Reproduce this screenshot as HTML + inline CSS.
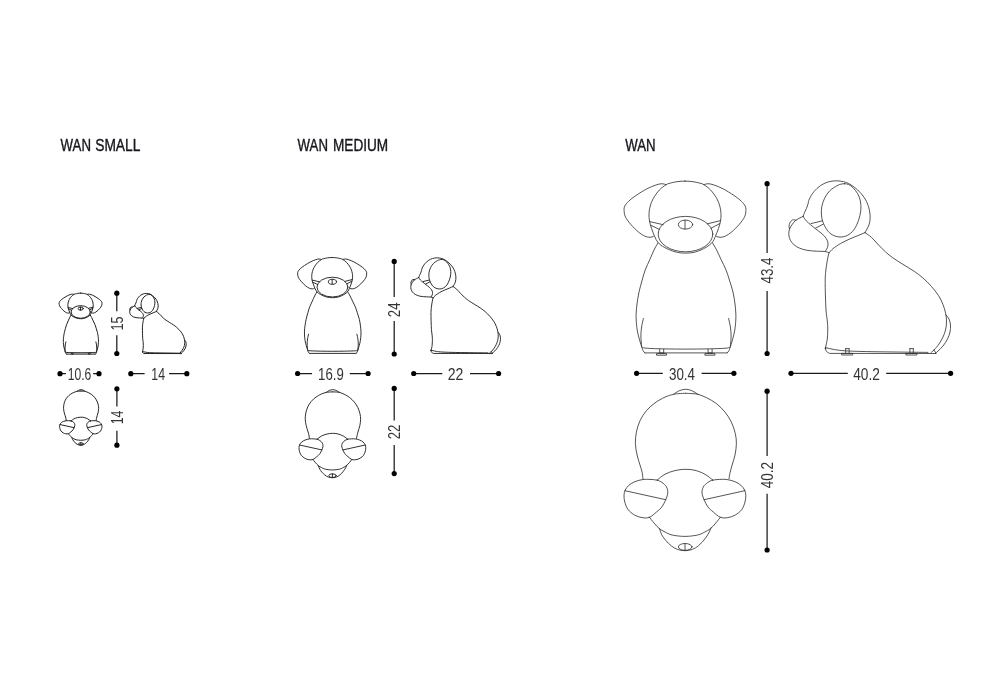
<!DOCTYPE html>
<html><head><meta charset="utf-8"><title>WAN dimensions</title>
<style>
html,body{margin:0;padding:0;background:#fff}
body{width:1000px;height:700px;overflow:hidden}
svg{display:block;will-change:transform}
.dog path,.dog ellipse{fill:none;stroke:#2e2e2e;stroke-width:.82;vector-effect:non-scaling-stroke;stroke-linecap:round;stroke-linejoin:round}
.md path,.md ellipse{stroke:#262626;stroke-width:.95}
.sm path,.sm ellipse{stroke:#222;stroke-width:1}
.dim circle{fill:#000}
.dl{stroke:#1c1c1c;stroke-width:1.25;fill:none}
.dt{font-family:"Liberation Sans",sans-serif;font-size:16.5px;fill:#333}
.lb{font-family:"Liberation Sans",sans-serif;font-size:16px;fill:#16161c;stroke:#16161c;stroke-width:.35}
</style></head><body>
<svg width="1000" height="700" viewBox="0 0 1000 700">
<rect width="1000" height="700" fill="#fff"/>
<g class="dog">
<g class="lg"><path d="M685.00 181.10 C682.33 181.10 679.50 181.35 677.00 181.70 C674.50 182.05 671.82 182.70 670.00 183.20 C668.18 183.70 667.87 183.57 666.10 184.70 C664.33 185.83 661.53 187.72 659.40 190.00 C657.27 192.28 654.83 195.72 653.30 198.40 C651.77 201.08 650.92 203.57 650.20 206.10 C649.48 208.63 649.12 211.10 649.00 213.60 C648.88 216.10 649.07 218.60 649.50 221.10 C649.93 223.60 650.77 226.10 651.60 228.60 C652.43 231.10 653.43 233.78 654.50 236.10 C655.57 238.42 656.37 240.63 658.00 242.50 C659.63 244.37 661.47 245.75 664.30 247.30 C667.13 248.85 671.52 250.83 675.00 251.80 C678.48 252.77 681.75 253.08 685.20 253.10 C688.65 253.12 692.25 252.85 695.70 251.90 C699.15 250.95 703.12 249.02 705.90 247.40 C708.68 245.78 710.80 244.08 712.40 242.20 C714.00 240.32 714.50 238.37 715.50 236.10 C716.50 233.83 717.57 231.10 718.40 228.60 C719.23 226.10 720.07 223.60 720.50 221.10 C720.93 218.60 721.12 216.10 721.00 213.60 C720.88 211.10 720.52 208.63 719.80 206.10 C719.08 203.57 718.23 201.08 716.70 198.40 C715.17 195.72 712.73 192.28 710.60 190.00 C708.47 187.72 705.67 185.83 703.90 184.70 C702.13 183.57 701.82 183.70 700.00 183.20 C698.18 182.70 695.50 182.05 693.00 181.70 C690.50 181.35 687.67 181.10 685.00 181.10Z"/><path d="M666.10 184.70 C665.38 184.53 663.58 183.62 661.80 183.70 C660.02 183.78 657.90 184.33 655.40 185.20 C652.90 186.07 650.02 187.20 646.80 188.90 C643.58 190.60 639.13 193.33 636.10 195.40 C633.07 197.47 630.48 199.52 628.60 201.30 C626.72 203.08 625.55 204.58 624.80 206.10 C624.05 207.62 624.00 208.62 624.10 210.40 C624.20 212.18 624.30 214.48 625.40 216.80 C626.50 219.12 628.57 221.80 630.70 224.30 C632.83 226.80 635.87 229.83 638.20 231.80 C640.53 233.77 642.73 235.18 644.70 236.10 C646.67 237.02 648.55 237.25 650.00 237.30 C651.45 237.35 652.83 236.55 653.40 236.40"/><path d="M703.90 184.70 C704.62 184.53 706.42 183.62 708.20 183.70 C709.98 183.78 712.10 184.33 714.60 185.20 C717.10 186.07 719.98 187.20 723.20 188.90 C726.42 190.60 730.87 193.33 733.90 195.40 C736.93 197.47 739.52 199.52 741.40 201.30 C743.28 203.08 744.45 204.58 745.20 206.10 C745.95 207.62 746.00 208.62 745.90 210.40 C745.80 212.18 745.70 214.48 744.60 216.80 C743.50 219.12 741.43 221.80 739.30 224.30 C737.17 226.80 734.13 229.83 731.80 231.80 C729.47 233.77 727.27 235.18 725.30 236.10 C723.33 237.02 721.45 237.25 720.00 237.30 C718.55 237.35 717.17 236.55 716.60 236.40"/><path d="M658.00 242.80 C657.33 244.00 655.33 247.27 654.00 250.00 C652.67 252.73 651.47 255.87 650.00 259.20 C648.53 262.53 646.50 266.53 645.20 270.00 C643.90 273.47 643.23 276.33 642.20 280.00 C641.17 283.67 639.87 288.00 639.00 292.00 C638.13 296.00 637.47 300.50 637.00 304.00 C636.53 307.50 636.33 310.33 636.20 313.00 C636.07 315.67 636.03 317.17 636.20 320.00 C636.37 322.83 636.68 326.83 637.20 330.00 C637.72 333.17 638.57 336.27 639.30 339.00 C640.03 341.73 640.98 344.47 641.60 346.40 C642.22 348.33 642.45 349.52 643.00 350.60 C643.55 351.68 644.58 352.52 644.90 352.90"/><path d="M712.40 242.80 C713.10 244.00 715.20 247.27 716.62 250.00 C718.04 252.73 719.35 255.87 720.92 259.20 C722.49 262.53 724.65 266.53 726.06 270.00 C727.47 273.47 728.23 276.33 729.38 280.00 C730.53 283.67 732.03 288.00 732.97 292.00 C733.90 296.00 734.53 300.50 735.00 304.00 C735.47 307.50 735.67 310.33 735.80 313.00 C735.93 315.67 735.97 317.17 735.80 320.00 C735.63 322.83 735.32 326.83 734.80 330.00 C734.28 333.17 733.43 336.27 732.70 339.00 C731.97 341.73 731.02 344.47 730.40 346.40 C729.78 348.33 729.55 349.52 729.00 350.60 C728.45 351.68 727.42 352.52 727.10 352.90"/><path d="M643.40 318.50 C643.10 319.92 642.02 324.08 641.60 327.00 C641.18 329.92 640.90 332.77 640.90 336.00 C640.90 339.23 641.48 344.67 641.60 346.40"/><path d="M728.60 318.50 C728.90 319.92 729.98 324.08 730.40 327.00 C730.82 329.92 731.10 332.77 731.10 336.00 C731.10 339.23 730.52 344.67 730.40 346.40"/><path d="M644.90 352.90 L727.10 352.90"/><path d="M641.60 346.80 C642.33 347.03 642.10 347.85 646.00 348.20 C649.90 348.55 658.33 348.75 665.00 348.90 C671.67 349.05 679.00 349.10 686.00 349.10 C693.00 349.10 700.33 349.05 707.00 348.90 C713.67 348.75 722.10 348.55 726.00 348.20 C729.90 347.85 729.67 347.03 730.40 346.80"/><path d="M649.70 221.60 L663.20 224.70"/><path d="M650.60 225.20 L659.30 229.40"/><path d="M720.40 220.60 L707.30 223.90"/><path d="M719.80 223.60 L711.00 228.20"/><path d="M659.70 349.2V353H663.70V349.2"/><path d="M656.90 353.6H666.50V355.2H656.90Z"/><path d="M708.10 349.2V353H712.10V349.2"/><path d="M705.30 353.6H714.90V355.2H705.30Z"/><ellipse cx="685.5" cy="234.1" rx="27.3" ry="17.7"/><ellipse cx="685.5" cy="224.6" rx="7.2" ry="4.5"/><path d="M685 220.2V229"/><path d="M803.10 216.40 C803.35 215.72 804.03 213.63 804.60 212.30 C805.17 210.97 805.93 209.78 806.50 208.40 C807.07 207.02 807.53 205.55 808.00 204.00 C808.47 202.45 808.32 201.15 809.30 199.10 C810.28 197.05 812.05 193.93 813.90 191.70 C815.75 189.47 818.07 187.32 820.40 185.70 C822.73 184.08 825.27 182.82 827.90 182.00 C830.53 181.18 833.58 180.85 836.20 180.80 C838.82 180.75 841.28 181.12 843.60 181.70 C845.92 182.28 847.77 182.93 850.10 184.30 C852.43 185.67 855.27 187.73 857.60 189.90 C859.93 192.07 862.33 194.68 864.10 197.30 C865.87 199.92 867.20 202.67 868.20 205.60 C869.20 208.53 869.93 211.80 870.10 214.90 C870.27 218.00 870.05 221.25 869.20 224.20 C868.35 227.15 865.70 231.20 865.00 232.60"/><path d="M865.00 232.60 C866.07 233.38 869.13 235.23 871.40 237.30 C873.67 239.37 876.22 242.53 878.60 245.00 C880.98 247.47 883.32 249.95 885.70 252.10 C888.08 254.25 890.03 255.87 892.90 257.90 C895.77 259.93 899.33 262.05 902.90 264.30 C906.47 266.55 910.97 269.13 914.30 271.40 C917.63 273.67 920.05 275.40 922.90 277.90 C925.75 280.40 928.78 283.43 931.40 286.40 C934.02 289.37 936.68 292.72 938.60 295.70 C940.52 298.68 941.72 301.32 942.90 304.30 C944.08 307.28 945.10 310.65 945.70 313.60 C946.30 316.55 946.53 319.27 946.50 322.00 C946.47 324.73 946.08 327.50 945.50 330.00 C944.92 332.50 944.08 334.67 943.00 337.00 C941.92 339.33 940.50 341.83 939.00 344.00 C937.50 346.17 935.33 348.58 934.00 350.00 C932.67 351.42 931.50 352.08 931.00 352.50"/><path d="M865.00 232.60 C863.83 233.10 860.52 234.55 858.00 235.60 C855.48 236.65 852.80 237.58 849.90 238.90 C847.00 240.22 843.40 241.88 840.60 243.50 C837.80 245.12 835.03 247.05 833.10 248.60 C831.17 250.15 829.68 252.10 829.00 252.80"/><path d="M829.00 252.80 C828.77 253.82 828.12 256.03 827.60 258.90 C827.08 261.77 826.30 266.48 825.90 270.00 C825.50 273.52 825.28 275.83 825.20 280.00 C825.12 284.17 825.27 290.00 825.40 295.00 C825.53 300.00 825.67 305.50 826.00 310.00 C826.33 314.50 827.11 318.67 827.40 322.00 C827.69 325.33 827.77 327.17 827.75 330.00 C827.73 332.83 827.67 336.08 827.30 339.00 C826.92 341.92 825.80 346.08 825.50 347.50"/><path d="M803.10 216.40 C802.38 216.75 800.13 217.77 798.80 218.50 C797.47 219.23 796.27 219.72 795.10 220.80 C793.93 221.88 792.73 223.62 791.80 225.00 C790.87 226.38 790.00 227.48 789.50 229.10 C789.00 230.72 788.65 232.83 788.80 234.70 C788.95 236.57 789.52 238.60 790.40 240.30 C791.28 242.00 792.55 243.58 794.10 244.90 C795.65 246.22 797.53 247.30 799.70 248.20 C801.87 249.10 804.32 249.80 807.10 250.30 C809.88 250.80 813.45 251.00 816.40 251.20 C819.35 251.40 822.70 251.23 824.80 251.50 C826.90 251.77 828.30 252.58 829.00 252.80"/><path d="M803.10 216.40 C803.62 217.13 804.90 219.37 806.20 220.80 C807.50 222.23 809.35 223.68 810.90 225.00 C812.45 226.32 813.65 227.23 815.50 228.70 C817.35 230.17 820.22 232.18 822.00 233.80 C823.78 235.42 825.20 236.85 826.20 238.40 C827.20 239.95 827.80 241.55 828.00 243.10 C828.20 244.65 827.87 246.32 827.40 247.70 C826.93 249.08 825.57 250.78 825.20 251.40"/><path d="M796.00 220.30 C795.45 220.22 793.70 219.42 792.70 219.80 C791.70 220.18 790.62 221.50 790.00 222.60 C789.38 223.70 789.07 225.35 789.00 226.40 C788.93 227.45 789.50 228.48 789.60 228.90"/><path d="M810.90 223.60 L822.50 220.80"/><path d="M815.50 228.20 L823.40 224.00"/><path d="M844.60 183.70 C843.33 183.65 842.15 183.87 840.90 184.20 C839.65 184.53 838.97 184.60 837.10 185.70 C835.23 186.80 831.78 188.72 829.70 190.80 C827.62 192.88 825.92 195.57 824.60 198.20 C823.28 200.83 822.33 203.97 821.80 206.60 C821.27 209.23 821.25 211.53 821.40 214.00 C821.55 216.47 821.78 218.77 822.70 221.40 C823.62 224.03 825.27 227.55 826.90 229.80 C828.53 232.05 830.33 233.70 832.50 234.90 C834.67 236.10 837.42 236.92 839.90 237.00 C842.38 237.08 845.07 236.60 847.40 235.40 C849.73 234.20 852.05 232.28 853.90 229.80 C855.75 227.32 857.35 223.75 858.50 220.50 C859.65 217.25 860.48 213.55 860.80 210.30 C861.12 207.05 860.93 203.78 860.40 201.00 C859.87 198.22 858.85 195.83 857.60 193.60 C856.35 191.37 854.42 189.12 852.90 187.60 C851.38 186.08 849.88 185.15 848.50 184.50 C847.12 183.85 845.87 183.75 844.60 183.70Z"/><path d="M825.50 347.60 C827.00 347.93 831.25 349.07 834.50 349.60 C837.75 350.13 840.25 350.48 845.00 350.80 C849.75 351.12 854.67 351.30 863.00 351.50 C871.33 351.70 884.17 351.85 895.00 352.00 C905.83 352.15 922.50 352.33 928.00 352.40"/><path d="M825.50 347.60 C825.53 347.93 825.52 348.93 825.70 349.60 C825.88 350.27 825.95 350.97 826.60 351.60 C827.25 352.23 829.10 353.10 829.60 353.40 L935.8 353.5"/><path d="M934.00 350.00 L936.00 353.20"/><path d="M825.4 347.9a.5 .5 0 1 0 .01 0Z"/><path d="M946.00 315.00 C946.50 315.67 948.25 317.33 949.00 319.00 C949.75 320.67 950.33 322.83 950.50 325.00 C950.67 327.17 950.50 329.67 950.00 332.00 C949.50 334.33 948.67 336.67 947.50 339.00 C946.33 341.33 944.58 344.00 943.00 346.00 C941.42 348.00 939.25 349.77 938.00 351.00 C936.75 352.23 935.92 353.00 935.50 353.40"/><path d="M845.70 348.6V352.6M849.10 348.6V352.6M845.70 348.6H849.10"/><path d="M842.10 353.4H852.70V355H842.10Z"/><path d="M909.90 348.6V352.6M913.30 348.6V352.6M909.90 348.6H913.30"/><path d="M906.30 353.4H916.90V355H906.30Z"/><path d="M685.50 393.30 C684.42 393.35 680.98 393.43 679.00 393.60 C677.02 393.77 675.93 393.72 673.60 394.30 C671.27 394.88 668.10 395.67 665.00 397.10 C661.90 398.53 658.10 400.63 655.00 402.90 C651.90 405.17 648.90 407.73 646.40 410.70 C643.90 413.67 641.67 417.13 640.00 420.70 C638.33 424.27 637.17 428.28 636.40 432.10 C635.63 435.92 635.28 439.78 635.40 443.60 C635.52 447.42 636.33 451.43 637.10 455.00 C637.87 458.57 639.17 462.15 640.00 465.00 C640.83 467.85 641.62 469.83 642.10 472.10 C642.58 474.37 642.77 477.52 642.90 478.60"/><path d="M685.50 393.30 C686.58 393.35 689.93 393.43 692.00 393.60 C694.07 393.77 695.50 393.63 697.90 394.30 C700.30 394.97 703.32 396.05 706.40 397.60 C709.48 399.15 713.30 401.18 716.40 403.60 C719.50 406.02 722.50 409.02 725.00 412.10 C727.50 415.18 729.68 418.52 731.40 422.10 C733.12 425.68 734.47 430.02 735.30 433.60 C736.13 437.18 736.45 440.03 736.40 443.60 C736.35 447.17 735.72 451.43 735.00 455.00 C734.28 458.57 732.93 462.02 732.10 465.00 C731.27 467.98 730.52 470.63 730.00 472.90 C729.48 475.17 729.17 477.65 729.00 478.60"/><path d="M673.60 394.30 C674.55 393.70 677.32 391.53 679.30 390.70 C681.28 389.87 683.52 389.35 685.50 389.30 C687.48 389.25 689.13 389.57 691.20 390.40 C693.27 391.23 696.78 393.65 697.90 394.30"/><path d="M657.30 480.00 C658.58 479.03 662.05 475.77 665.00 474.20 C667.95 472.63 671.67 471.42 675.00 470.60 C678.33 469.78 681.67 469.35 685.00 469.30 C688.33 469.25 691.67 469.47 695.00 470.30 C698.33 471.13 702.05 472.68 705.00 474.30 C707.95 475.92 711.42 479.05 712.70 480.00"/><path d="M657.30 480.20 C655.30 479.68 652.38 479.52 650.00 479.40 C647.62 479.28 645.50 479.13 643.00 479.50 C640.50 479.87 637.33 480.65 635.00 481.60 C632.67 482.55 630.63 483.80 629.00 485.20 C627.37 486.60 626.03 488.28 625.20 490.00 C624.37 491.72 624.07 493.50 624.00 495.50 C623.93 497.50 624.13 499.67 624.80 502.00 C625.47 504.33 626.38 507.33 628.00 509.50 C629.62 511.67 632.17 513.65 634.50 515.00 C636.83 516.35 639.52 517.22 642.00 517.60 C644.48 517.98 646.98 518.23 649.40 517.30 C651.82 516.37 654.32 513.88 656.50 512.00 C658.68 510.12 660.65 508.95 662.50 506.00 C664.35 503.05 666.93 497.47 667.60 494.30 C668.27 491.13 667.43 488.97 666.50 487.00 C665.57 485.03 663.53 483.63 662.00 482.50 C660.47 481.37 659.30 480.72 657.30 480.20Z"/><path d="M712.50 480.20 C714.50 479.68 717.42 479.52 719.80 479.40 C722.18 479.28 724.30 479.13 726.80 479.50 C729.30 479.87 732.47 480.65 734.80 481.60 C737.13 482.55 739.17 483.80 740.80 485.20 C742.43 486.60 743.77 488.28 744.60 490.00 C745.43 491.72 745.73 493.50 745.80 495.50 C745.87 497.50 745.67 499.67 745.00 502.00 C744.33 504.33 743.42 507.33 741.80 509.50 C740.18 511.67 737.63 513.65 735.30 515.00 C732.97 516.35 730.28 517.22 727.80 517.60 C725.32 517.98 722.82 518.23 720.40 517.30 C717.98 516.37 715.48 513.88 713.30 512.00 C711.12 510.12 709.15 508.95 707.30 506.00 C705.45 503.05 702.87 497.47 702.20 494.30 C701.53 491.13 702.37 488.97 703.30 487.00 C704.23 485.03 706.27 483.63 707.80 482.50 C709.33 481.37 710.50 480.72 712.50 480.20Z"/><path d="M625.00 490.70 L665.70 499.70"/><path d="M744.80 490.70 L704.10 499.70"/><path d="M649.30 517.10 C650.08 518.08 652.33 521.08 654.00 523.00 C655.67 524.92 657.47 527.10 659.30 528.60 C661.13 530.10 662.87 530.93 665.00 532.00 C667.13 533.07 668.78 534.27 672.10 535.00 C675.42 535.73 680.63 536.40 684.90 536.40 C689.17 536.40 694.38 535.73 697.70 535.00 C701.02 534.27 702.67 533.07 704.80 532.00 C706.93 530.93 708.67 530.10 710.50 528.60 C712.33 527.10 714.13 524.92 715.80 523.00 C717.47 521.08 719.72 518.08 720.50 517.10"/><path d="M659.40 528.40 C659.80 529.48 660.75 532.92 661.80 534.90 C662.85 536.88 664.13 538.48 665.70 540.30 C667.27 542.12 669.23 544.28 671.20 545.80 C673.17 547.32 675.23 548.58 677.50 549.40 C679.77 550.22 682.32 550.70 684.80 550.70 C687.28 550.70 690.08 550.27 692.40 549.40 C694.72 548.53 696.60 547.27 698.70 545.50 C700.80 543.73 703.22 541.07 705.00 538.80 C706.78 536.53 708.40 533.73 709.40 531.90 C710.40 530.07 710.73 528.48 711.00 527.80"/><ellipse cx="685.2" cy="546.9" rx="6.8" ry="3.4"/><path d="M685 543.5V550.3"/></g>
<g class="md">
<g transform="translate(297.650 257.400) scale(0.5667 0.5581) translate(-624.100 -180.900)"><path d="M685.00 181.10 C682.33 181.10 679.50 181.35 677.00 181.70 C674.50 182.05 671.82 182.70 670.00 183.20 C668.18 183.70 667.87 183.57 666.10 184.70 C664.33 185.83 661.53 187.72 659.40 190.00 C657.27 192.28 654.83 195.72 653.30 198.40 C651.77 201.08 650.92 203.57 650.20 206.10 C649.48 208.63 649.12 211.10 649.00 213.60 C648.88 216.10 649.07 218.60 649.50 221.10 C649.93 223.60 650.77 226.10 651.60 228.60 C652.43 231.10 653.43 233.78 654.50 236.10 C655.57 238.42 656.37 240.63 658.00 242.50 C659.63 244.37 661.47 245.75 664.30 247.30 C667.13 248.85 671.52 250.83 675.00 251.80 C678.48 252.77 681.75 253.08 685.20 253.10 C688.65 253.12 692.25 252.85 695.70 251.90 C699.15 250.95 703.12 249.02 705.90 247.40 C708.68 245.78 710.80 244.08 712.40 242.20 C714.00 240.32 714.50 238.37 715.50 236.10 C716.50 233.83 717.57 231.10 718.40 228.60 C719.23 226.10 720.07 223.60 720.50 221.10 C720.93 218.60 721.12 216.10 721.00 213.60 C720.88 211.10 720.52 208.63 719.80 206.10 C719.08 203.57 718.23 201.08 716.70 198.40 C715.17 195.72 712.73 192.28 710.60 190.00 C708.47 187.72 705.67 185.83 703.90 184.70 C702.13 183.57 701.82 183.70 700.00 183.20 C698.18 182.70 695.50 182.05 693.00 181.70 C690.50 181.35 687.67 181.10 685.00 181.10Z"/><path d="M666.10 184.70 C665.38 184.53 663.58 183.62 661.80 183.70 C660.02 183.78 657.90 184.33 655.40 185.20 C652.90 186.07 650.02 187.20 646.80 188.90 C643.58 190.60 639.13 193.33 636.10 195.40 C633.07 197.47 630.48 199.52 628.60 201.30 C626.72 203.08 625.55 204.58 624.80 206.10 C624.05 207.62 624.00 208.62 624.10 210.40 C624.20 212.18 624.30 214.48 625.40 216.80 C626.50 219.12 628.57 221.80 630.70 224.30 C632.83 226.80 635.87 229.83 638.20 231.80 C640.53 233.77 642.73 235.18 644.70 236.10 C646.67 237.02 648.55 237.25 650.00 237.30 C651.45 237.35 652.83 236.55 653.40 236.40"/><path d="M703.90 184.70 C704.62 184.53 706.42 183.62 708.20 183.70 C709.98 183.78 712.10 184.33 714.60 185.20 C717.10 186.07 719.98 187.20 723.20 188.90 C726.42 190.60 730.87 193.33 733.90 195.40 C736.93 197.47 739.52 199.52 741.40 201.30 C743.28 203.08 744.45 204.58 745.20 206.10 C745.95 207.62 746.00 208.62 745.90 210.40 C745.80 212.18 745.70 214.48 744.60 216.80 C743.50 219.12 741.43 221.80 739.30 224.30 C737.17 226.80 734.13 229.83 731.80 231.80 C729.47 233.77 727.27 235.18 725.30 236.10 C723.33 237.02 721.45 237.25 720.00 237.30 C718.55 237.35 717.17 236.55 716.60 236.40"/><path d="M658.00 242.80 C657.33 244.00 655.33 247.27 654.00 250.00 C652.67 252.73 651.47 255.87 650.00 259.20 C648.53 262.53 646.50 266.53 645.20 270.00 C643.90 273.47 643.23 276.33 642.20 280.00 C641.17 283.67 639.87 288.00 639.00 292.00 C638.13 296.00 637.47 300.50 637.00 304.00 C636.53 307.50 636.33 310.33 636.20 313.00 C636.07 315.67 636.03 317.17 636.20 320.00 C636.37 322.83 636.68 326.83 637.20 330.00 C637.72 333.17 638.57 336.27 639.30 339.00 C640.03 341.73 640.98 344.47 641.60 346.40 C642.22 348.33 642.45 349.52 643.00 350.60 C643.55 351.68 644.58 352.52 644.90 352.90"/><path d="M712.40 242.80 C713.10 244.00 715.20 247.27 716.62 250.00 C718.04 252.73 719.35 255.87 720.92 259.20 C722.49 262.53 724.65 266.53 726.06 270.00 C727.47 273.47 728.23 276.33 729.38 280.00 C730.53 283.67 732.03 288.00 732.97 292.00 C733.90 296.00 734.53 300.50 735.00 304.00 C735.47 307.50 735.67 310.33 735.80 313.00 C735.93 315.67 735.97 317.17 735.80 320.00 C735.63 322.83 735.32 326.83 734.80 330.00 C734.28 333.17 733.43 336.27 732.70 339.00 C731.97 341.73 731.02 344.47 730.40 346.40 C729.78 348.33 729.55 349.52 729.00 350.60 C728.45 351.68 727.42 352.52 727.10 352.90"/><path d="M643.40 318.50 C643.10 319.92 642.02 324.08 641.60 327.00 C641.18 329.92 640.90 332.77 640.90 336.00 C640.90 339.23 641.48 344.67 641.60 346.40"/><path d="M728.60 318.50 C728.90 319.92 729.98 324.08 730.40 327.00 C730.82 329.92 731.10 332.77 731.10 336.00 C731.10 339.23 730.52 344.67 730.40 346.40"/><path d="M644.90 352.90 L727.10 352.90"/><path d="M641.60 346.80 C642.33 347.03 642.10 347.85 646.00 348.20 C649.90 348.55 658.33 348.75 665.00 348.90 C671.67 349.05 679.00 349.10 686.00 349.10 C693.00 349.10 700.33 349.05 707.00 348.90 C713.67 348.75 722.10 348.55 726.00 348.20 C729.90 347.85 729.67 347.03 730.40 346.80"/><path d="M649.70 221.60 L663.20 224.70"/><path d="M650.60 225.20 L659.30 229.40"/><path d="M720.40 220.60 L707.30 223.90"/><path d="M719.80 223.60 L711.00 228.20"/><ellipse cx="685.5" cy="234.1" rx="27.3" ry="17.7"/><ellipse cx="685.5" cy="224.6" rx="7.2" ry="4.5"/><path d="M685 220.2V229"/></g>
<g transform="translate(410.800 257.800) scale(0.5545 0.5538) translate(-788.800 -180.700)"><path d="M803.10 216.40 C803.35 215.72 804.03 213.63 804.60 212.30 C805.17 210.97 805.93 209.78 806.50 208.40 C807.07 207.02 807.53 205.55 808.00 204.00 C808.47 202.45 808.32 201.15 809.30 199.10 C810.28 197.05 812.05 193.93 813.90 191.70 C815.75 189.47 818.07 187.32 820.40 185.70 C822.73 184.08 825.27 182.82 827.90 182.00 C830.53 181.18 833.58 180.85 836.20 180.80 C838.82 180.75 841.28 181.12 843.60 181.70 C845.92 182.28 847.77 182.93 850.10 184.30 C852.43 185.67 855.27 187.73 857.60 189.90 C859.93 192.07 862.33 194.68 864.10 197.30 C865.87 199.92 867.20 202.67 868.20 205.60 C869.20 208.53 869.93 211.80 870.10 214.90 C870.27 218.00 870.05 221.25 869.20 224.20 C868.35 227.15 865.70 231.20 865.00 232.60"/><path d="M865.00 232.60 C866.07 233.38 869.13 235.23 871.40 237.30 C873.67 239.37 876.22 242.53 878.60 245.00 C880.98 247.47 883.32 249.95 885.70 252.10 C888.08 254.25 890.03 255.87 892.90 257.90 C895.77 259.93 899.33 262.05 902.90 264.30 C906.47 266.55 910.97 269.13 914.30 271.40 C917.63 273.67 920.05 275.40 922.90 277.90 C925.75 280.40 928.78 283.43 931.40 286.40 C934.02 289.37 936.68 292.72 938.60 295.70 C940.52 298.68 941.72 301.32 942.90 304.30 C944.08 307.28 945.10 310.65 945.70 313.60 C946.30 316.55 946.53 319.27 946.50 322.00 C946.47 324.73 946.08 327.50 945.50 330.00 C944.92 332.50 944.08 334.67 943.00 337.00 C941.92 339.33 940.50 341.83 939.00 344.00 C937.50 346.17 935.33 348.58 934.00 350.00 C932.67 351.42 931.50 352.08 931.00 352.50"/><path d="M865.00 232.60 C863.83 233.10 860.52 234.55 858.00 235.60 C855.48 236.65 852.80 237.58 849.90 238.90 C847.00 240.22 843.40 241.88 840.60 243.50 C837.80 245.12 835.03 247.05 833.10 248.60 C831.17 250.15 829.68 252.10 829.00 252.80"/><path d="M829.00 252.80 C828.77 253.82 828.12 256.03 827.60 258.90 C827.08 261.77 826.30 266.48 825.90 270.00 C825.50 273.52 825.28 275.83 825.20 280.00 C825.12 284.17 825.27 290.00 825.40 295.00 C825.53 300.00 825.67 305.50 826.00 310.00 C826.33 314.50 827.11 318.67 827.40 322.00 C827.69 325.33 827.77 327.17 827.75 330.00 C827.73 332.83 827.67 336.08 827.30 339.00 C826.92 341.92 825.80 346.08 825.50 347.50"/><path d="M803.10 216.40 C802.38 216.75 800.13 217.77 798.80 218.50 C797.47 219.23 796.27 219.72 795.10 220.80 C793.93 221.88 792.73 223.62 791.80 225.00 C790.87 226.38 790.00 227.48 789.50 229.10 C789.00 230.72 788.65 232.83 788.80 234.70 C788.95 236.57 789.52 238.60 790.40 240.30 C791.28 242.00 792.55 243.58 794.10 244.90 C795.65 246.22 797.53 247.30 799.70 248.20 C801.87 249.10 804.32 249.80 807.10 250.30 C809.88 250.80 813.45 251.00 816.40 251.20 C819.35 251.40 822.70 251.23 824.80 251.50 C826.90 251.77 828.30 252.58 829.00 252.80"/><path d="M803.10 216.40 C803.62 217.13 804.90 219.37 806.20 220.80 C807.50 222.23 809.35 223.68 810.90 225.00 C812.45 226.32 813.65 227.23 815.50 228.70 C817.35 230.17 820.22 232.18 822.00 233.80 C823.78 235.42 825.20 236.85 826.20 238.40 C827.20 239.95 827.80 241.55 828.00 243.10 C828.20 244.65 827.87 246.32 827.40 247.70 C826.93 249.08 825.57 250.78 825.20 251.40"/><path d="M796.00 220.30 C795.45 220.22 793.70 219.42 792.70 219.80 C791.70 220.18 790.62 221.50 790.00 222.60 C789.38 223.70 789.07 225.35 789.00 226.40 C788.93 227.45 789.50 228.48 789.60 228.90"/><path d="M810.90 223.60 L822.50 220.80"/><path d="M815.50 228.20 L823.40 224.00"/><path d="M844.60 183.70 C843.33 183.65 842.15 183.87 840.90 184.20 C839.65 184.53 838.97 184.60 837.10 185.70 C835.23 186.80 831.78 188.72 829.70 190.80 C827.62 192.88 825.92 195.57 824.60 198.20 C823.28 200.83 822.33 203.97 821.80 206.60 C821.27 209.23 821.25 211.53 821.40 214.00 C821.55 216.47 821.78 218.77 822.70 221.40 C823.62 224.03 825.27 227.55 826.90 229.80 C828.53 232.05 830.33 233.70 832.50 234.90 C834.67 236.10 837.42 236.92 839.90 237.00 C842.38 237.08 845.07 236.60 847.40 235.40 C849.73 234.20 852.05 232.28 853.90 229.80 C855.75 227.32 857.35 223.75 858.50 220.50 C859.65 217.25 860.48 213.55 860.80 210.30 C861.12 207.05 860.93 203.78 860.40 201.00 C859.87 198.22 858.85 195.83 857.60 193.60 C856.35 191.37 854.42 189.12 852.90 187.60 C851.38 186.08 849.88 185.15 848.50 184.50 C847.12 183.85 845.87 183.75 844.60 183.70Z"/><path d="M825.50 347.60 C827.00 347.93 831.25 349.07 834.50 349.60 C837.75 350.13 840.25 350.48 845.00 350.80 C849.75 351.12 854.67 351.30 863.00 351.50 C871.33 351.70 884.17 351.85 895.00 352.00 C905.83 352.15 922.50 352.33 928.00 352.40"/><path d="M825.50 347.60 C825.53 347.93 825.52 348.93 825.70 349.60 C825.88 350.27 825.95 350.97 826.60 351.60 C827.25 352.23 829.10 353.10 829.60 353.40 L935.8 353.5"/><path d="M934.00 350.00 L936.00 353.20"/><path d="M825.4 347.9a.5 .5 0 1 0 .01 0Z"/><path d="M946.00 315.00 C946.50 315.67 948.25 317.33 949.00 319.00 C949.75 320.67 950.33 322.83 950.50 325.00 C950.67 327.17 950.50 329.67 950.00 332.00 C949.50 334.33 948.67 336.67 947.50 339.00 C946.33 341.33 944.58 344.00 943.00 346.00 C941.42 348.00 939.25 349.77 938.00 351.00 C936.75 352.23 935.92 353.00 935.50 353.40"/></g>
<g transform="translate(299.000 389.700) scale(0.5481 0.5455) translate(-624.000 -389.300)"><path d="M685.50 393.30 C684.42 393.35 680.98 393.43 679.00 393.60 C677.02 393.77 675.93 393.72 673.60 394.30 C671.27 394.88 668.10 395.67 665.00 397.10 C661.90 398.53 658.10 400.63 655.00 402.90 C651.90 405.17 648.90 407.73 646.40 410.70 C643.90 413.67 641.67 417.13 640.00 420.70 C638.33 424.27 637.17 428.28 636.40 432.10 C635.63 435.92 635.28 439.78 635.40 443.60 C635.52 447.42 636.33 451.43 637.10 455.00 C637.87 458.57 639.17 462.15 640.00 465.00 C640.83 467.85 641.62 469.83 642.10 472.10 C642.58 474.37 642.77 477.52 642.90 478.60"/><path d="M685.50 393.30 C686.58 393.35 689.93 393.43 692.00 393.60 C694.07 393.77 695.50 393.63 697.90 394.30 C700.30 394.97 703.32 396.05 706.40 397.60 C709.48 399.15 713.30 401.18 716.40 403.60 C719.50 406.02 722.50 409.02 725.00 412.10 C727.50 415.18 729.68 418.52 731.40 422.10 C733.12 425.68 734.47 430.02 735.30 433.60 C736.13 437.18 736.45 440.03 736.40 443.60 C736.35 447.17 735.72 451.43 735.00 455.00 C734.28 458.57 732.93 462.02 732.10 465.00 C731.27 467.98 730.52 470.63 730.00 472.90 C729.48 475.17 729.17 477.65 729.00 478.60"/><path d="M673.60 394.30 C674.55 393.70 677.32 391.53 679.30 390.70 C681.28 389.87 683.52 389.35 685.50 389.30 C687.48 389.25 689.13 389.57 691.20 390.40 C693.27 391.23 696.78 393.65 697.90 394.30"/><path d="M657.30 480.00 C658.58 479.03 662.05 475.77 665.00 474.20 C667.95 472.63 671.67 471.42 675.00 470.60 C678.33 469.78 681.67 469.35 685.00 469.30 C688.33 469.25 691.67 469.47 695.00 470.30 C698.33 471.13 702.05 472.68 705.00 474.30 C707.95 475.92 711.42 479.05 712.70 480.00"/><path d="M657.30 480.20 C655.30 479.68 652.38 479.52 650.00 479.40 C647.62 479.28 645.50 479.13 643.00 479.50 C640.50 479.87 637.33 480.65 635.00 481.60 C632.67 482.55 630.63 483.80 629.00 485.20 C627.37 486.60 626.03 488.28 625.20 490.00 C624.37 491.72 624.07 493.50 624.00 495.50 C623.93 497.50 624.13 499.67 624.80 502.00 C625.47 504.33 626.38 507.33 628.00 509.50 C629.62 511.67 632.17 513.65 634.50 515.00 C636.83 516.35 639.52 517.22 642.00 517.60 C644.48 517.98 646.98 518.23 649.40 517.30 C651.82 516.37 654.32 513.88 656.50 512.00 C658.68 510.12 660.65 508.95 662.50 506.00 C664.35 503.05 666.93 497.47 667.60 494.30 C668.27 491.13 667.43 488.97 666.50 487.00 C665.57 485.03 663.53 483.63 662.00 482.50 C660.47 481.37 659.30 480.72 657.30 480.20Z"/><path d="M712.50 480.20 C714.50 479.68 717.42 479.52 719.80 479.40 C722.18 479.28 724.30 479.13 726.80 479.50 C729.30 479.87 732.47 480.65 734.80 481.60 C737.13 482.55 739.17 483.80 740.80 485.20 C742.43 486.60 743.77 488.28 744.60 490.00 C745.43 491.72 745.73 493.50 745.80 495.50 C745.87 497.50 745.67 499.67 745.00 502.00 C744.33 504.33 743.42 507.33 741.80 509.50 C740.18 511.67 737.63 513.65 735.30 515.00 C732.97 516.35 730.28 517.22 727.80 517.60 C725.32 517.98 722.82 518.23 720.40 517.30 C717.98 516.37 715.48 513.88 713.30 512.00 C711.12 510.12 709.15 508.95 707.30 506.00 C705.45 503.05 702.87 497.47 702.20 494.30 C701.53 491.13 702.37 488.97 703.30 487.00 C704.23 485.03 706.27 483.63 707.80 482.50 C709.33 481.37 710.50 480.72 712.50 480.20Z"/><path d="M625.00 490.70 L665.70 499.70"/><path d="M744.80 490.70 L704.10 499.70"/><path d="M649.30 517.10 C650.08 518.08 652.33 521.08 654.00 523.00 C655.67 524.92 657.47 527.10 659.30 528.60 C661.13 530.10 662.87 530.93 665.00 532.00 C667.13 533.07 668.78 534.27 672.10 535.00 C675.42 535.73 680.63 536.40 684.90 536.40 C689.17 536.40 694.38 535.73 697.70 535.00 C701.02 534.27 702.67 533.07 704.80 532.00 C706.93 530.93 708.67 530.10 710.50 528.60 C712.33 527.10 714.13 524.92 715.80 523.00 C717.47 521.08 719.72 518.08 720.50 517.10"/><path d="M659.40 528.40 C659.80 529.48 660.75 532.92 661.80 534.90 C662.85 536.88 664.13 538.48 665.70 540.30 C667.27 542.12 669.23 544.28 671.20 545.80 C673.17 547.32 675.23 548.58 677.50 549.40 C679.77 550.22 682.32 550.70 684.80 550.70 C687.28 550.70 690.08 550.27 692.40 549.40 C694.72 548.53 696.60 547.27 698.70 545.50 C700.80 543.73 703.22 541.07 705.00 538.80 C706.78 536.53 708.40 533.73 709.40 531.90 C710.40 530.07 710.73 528.48 711.00 527.80"/><ellipse cx="685.2" cy="546.9" rx="6.8" ry="3.4"/><path d="M685 543.5V550.3"/></g>
</g><g class="sm">
<g transform="translate(59.100 293.100) scale(0.3523 0.3547) translate(-624.100 -180.900)"><path d="M685.00 181.10 C682.33 181.10 679.50 181.35 677.00 181.70 C674.50 182.05 671.82 182.70 670.00 183.20 C668.18 183.70 667.87 183.57 666.10 184.70 C664.33 185.83 661.53 187.72 659.40 190.00 C657.27 192.28 654.83 195.72 653.30 198.40 C651.77 201.08 650.92 203.57 650.20 206.10 C649.48 208.63 649.12 211.10 649.00 213.60 C648.88 216.10 649.07 218.60 649.50 221.10 C649.93 223.60 650.77 226.10 651.60 228.60 C652.43 231.10 653.43 233.78 654.50 236.10 C655.57 238.42 656.37 240.63 658.00 242.50 C659.63 244.37 661.47 245.75 664.30 247.30 C667.13 248.85 671.52 250.83 675.00 251.80 C678.48 252.77 681.75 253.08 685.20 253.10 C688.65 253.12 692.25 252.85 695.70 251.90 C699.15 250.95 703.12 249.02 705.90 247.40 C708.68 245.78 710.80 244.08 712.40 242.20 C714.00 240.32 714.50 238.37 715.50 236.10 C716.50 233.83 717.57 231.10 718.40 228.60 C719.23 226.10 720.07 223.60 720.50 221.10 C720.93 218.60 721.12 216.10 721.00 213.60 C720.88 211.10 720.52 208.63 719.80 206.10 C719.08 203.57 718.23 201.08 716.70 198.40 C715.17 195.72 712.73 192.28 710.60 190.00 C708.47 187.72 705.67 185.83 703.90 184.70 C702.13 183.57 701.82 183.70 700.00 183.20 C698.18 182.70 695.50 182.05 693.00 181.70 C690.50 181.35 687.67 181.10 685.00 181.10Z"/><path d="M666.10 184.70 C665.38 184.53 663.58 183.62 661.80 183.70 C660.02 183.78 657.90 184.33 655.40 185.20 C652.90 186.07 650.02 187.20 646.80 188.90 C643.58 190.60 639.13 193.33 636.10 195.40 C633.07 197.47 630.48 199.52 628.60 201.30 C626.72 203.08 625.55 204.58 624.80 206.10 C624.05 207.62 624.00 208.62 624.10 210.40 C624.20 212.18 624.30 214.48 625.40 216.80 C626.50 219.12 628.57 221.80 630.70 224.30 C632.83 226.80 635.87 229.83 638.20 231.80 C640.53 233.77 642.73 235.18 644.70 236.10 C646.67 237.02 648.55 237.25 650.00 237.30 C651.45 237.35 652.83 236.55 653.40 236.40"/><path d="M703.90 184.70 C704.62 184.53 706.42 183.62 708.20 183.70 C709.98 183.78 712.10 184.33 714.60 185.20 C717.10 186.07 719.98 187.20 723.20 188.90 C726.42 190.60 730.87 193.33 733.90 195.40 C736.93 197.47 739.52 199.52 741.40 201.30 C743.28 203.08 744.45 204.58 745.20 206.10 C745.95 207.62 746.00 208.62 745.90 210.40 C745.80 212.18 745.70 214.48 744.60 216.80 C743.50 219.12 741.43 221.80 739.30 224.30 C737.17 226.80 734.13 229.83 731.80 231.80 C729.47 233.77 727.27 235.18 725.30 236.10 C723.33 237.02 721.45 237.25 720.00 237.30 C718.55 237.35 717.17 236.55 716.60 236.40"/><path d="M658.00 242.80 C657.33 244.00 655.33 247.27 654.00 250.00 C652.67 252.73 651.47 255.87 650.00 259.20 C648.53 262.53 646.50 266.53 645.20 270.00 C643.90 273.47 643.23 276.33 642.20 280.00 C641.17 283.67 639.87 288.00 639.00 292.00 C638.13 296.00 637.47 300.50 637.00 304.00 C636.53 307.50 636.33 310.33 636.20 313.00 C636.07 315.67 636.03 317.17 636.20 320.00 C636.37 322.83 636.68 326.83 637.20 330.00 C637.72 333.17 638.57 336.27 639.30 339.00 C640.03 341.73 640.98 344.47 641.60 346.40 C642.22 348.33 642.45 349.52 643.00 350.60 C643.55 351.68 644.58 352.52 644.90 352.90"/><path d="M712.40 242.80 C713.10 244.00 715.20 247.27 716.62 250.00 C718.04 252.73 719.35 255.87 720.92 259.20 C722.49 262.53 724.65 266.53 726.06 270.00 C727.47 273.47 728.23 276.33 729.38 280.00 C730.53 283.67 732.03 288.00 732.97 292.00 C733.90 296.00 734.53 300.50 735.00 304.00 C735.47 307.50 735.67 310.33 735.80 313.00 C735.93 315.67 735.97 317.17 735.80 320.00 C735.63 322.83 735.32 326.83 734.80 330.00 C734.28 333.17 733.43 336.27 732.70 339.00 C731.97 341.73 731.02 344.47 730.40 346.40 C729.78 348.33 729.55 349.52 729.00 350.60 C728.45 351.68 727.42 352.52 727.10 352.90"/><path d="M643.40 318.50 C643.10 319.92 642.02 324.08 641.60 327.00 C641.18 329.92 640.90 332.77 640.90 336.00 C640.90 339.23 641.48 344.67 641.60 346.40"/><path d="M728.60 318.50 C728.90 319.92 729.98 324.08 730.40 327.00 C730.82 329.92 731.10 332.77 731.10 336.00 C731.10 339.23 730.52 344.67 730.40 346.40"/><path d="M644.90 352.90 L727.10 352.90"/><path d="M641.60 346.80 C642.33 347.03 642.10 347.85 646.00 348.20 C649.90 348.55 658.33 348.75 665.00 348.90 C671.67 349.05 679.00 349.10 686.00 349.10 C693.00 349.10 700.33 349.05 707.00 348.90 C713.67 348.75 722.10 348.55 726.00 348.20 C729.90 347.85 729.67 347.03 730.40 346.80"/><path d="M649.70 221.60 L663.20 224.70"/><path d="M650.60 225.20 L659.30 229.40"/><path d="M720.40 220.60 L707.30 223.90"/><path d="M719.80 223.60 L711.00 228.20"/><path d="M659.70 349.2V353H663.70V349.2"/><path d="M708.10 349.2V353H712.10V349.2"/><ellipse cx="685.5" cy="234.1" rx="27.3" ry="17.7"/><ellipse cx="685.5" cy="224.6" rx="7.2" ry="4.5"/><path d="M685 220.2V229"/></g>
<g transform="translate(129.700 293.400) scale(0.3495 0.3481) translate(-788.800 -180.700)"><path d="M803.10 216.40 C803.35 215.72 804.03 213.63 804.60 212.30 C805.17 210.97 805.93 209.78 806.50 208.40 C807.07 207.02 807.53 205.55 808.00 204.00 C808.47 202.45 808.32 201.15 809.30 199.10 C810.28 197.05 812.05 193.93 813.90 191.70 C815.75 189.47 818.07 187.32 820.40 185.70 C822.73 184.08 825.27 182.82 827.90 182.00 C830.53 181.18 833.58 180.85 836.20 180.80 C838.82 180.75 841.28 181.12 843.60 181.70 C845.92 182.28 847.77 182.93 850.10 184.30 C852.43 185.67 855.27 187.73 857.60 189.90 C859.93 192.07 862.33 194.68 864.10 197.30 C865.87 199.92 867.20 202.67 868.20 205.60 C869.20 208.53 869.93 211.80 870.10 214.90 C870.27 218.00 870.05 221.25 869.20 224.20 C868.35 227.15 865.70 231.20 865.00 232.60"/><path d="M865.00 232.60 C866.07 233.38 869.13 235.23 871.40 237.30 C873.67 239.37 876.22 242.53 878.60 245.00 C880.98 247.47 883.32 249.95 885.70 252.10 C888.08 254.25 890.03 255.87 892.90 257.90 C895.77 259.93 899.33 262.05 902.90 264.30 C906.47 266.55 910.97 269.13 914.30 271.40 C917.63 273.67 920.05 275.40 922.90 277.90 C925.75 280.40 928.78 283.43 931.40 286.40 C934.02 289.37 936.68 292.72 938.60 295.70 C940.52 298.68 941.72 301.32 942.90 304.30 C944.08 307.28 945.10 310.65 945.70 313.60 C946.30 316.55 946.53 319.27 946.50 322.00 C946.47 324.73 946.08 327.50 945.50 330.00 C944.92 332.50 944.08 334.67 943.00 337.00 C941.92 339.33 940.50 341.83 939.00 344.00 C937.50 346.17 935.33 348.58 934.00 350.00 C932.67 351.42 931.50 352.08 931.00 352.50"/><path d="M865.00 232.60 C863.83 233.10 860.52 234.55 858.00 235.60 C855.48 236.65 852.80 237.58 849.90 238.90 C847.00 240.22 843.40 241.88 840.60 243.50 C837.80 245.12 835.03 247.05 833.10 248.60 C831.17 250.15 829.68 252.10 829.00 252.80"/><path d="M829.00 252.80 C828.77 253.82 828.12 256.03 827.60 258.90 C827.08 261.77 826.30 266.48 825.90 270.00 C825.50 273.52 825.28 275.83 825.20 280.00 C825.12 284.17 825.27 290.00 825.40 295.00 C825.53 300.00 825.67 305.50 826.00 310.00 C826.33 314.50 827.11 318.67 827.40 322.00 C827.69 325.33 827.77 327.17 827.75 330.00 C827.73 332.83 827.67 336.08 827.30 339.00 C826.92 341.92 825.80 346.08 825.50 347.50"/><path d="M803.10 216.40 C802.38 216.75 800.13 217.77 798.80 218.50 C797.47 219.23 796.27 219.72 795.10 220.80 C793.93 221.88 792.73 223.62 791.80 225.00 C790.87 226.38 790.00 227.48 789.50 229.10 C789.00 230.72 788.65 232.83 788.80 234.70 C788.95 236.57 789.52 238.60 790.40 240.30 C791.28 242.00 792.55 243.58 794.10 244.90 C795.65 246.22 797.53 247.30 799.70 248.20 C801.87 249.10 804.32 249.80 807.10 250.30 C809.88 250.80 813.45 251.00 816.40 251.20 C819.35 251.40 822.70 251.23 824.80 251.50 C826.90 251.77 828.30 252.58 829.00 252.80"/><path d="M803.10 216.40 C803.62 217.13 804.90 219.37 806.20 220.80 C807.50 222.23 809.35 223.68 810.90 225.00 C812.45 226.32 813.65 227.23 815.50 228.70 C817.35 230.17 820.22 232.18 822.00 233.80 C823.78 235.42 825.20 236.85 826.20 238.40 C827.20 239.95 827.80 241.55 828.00 243.10 C828.20 244.65 827.87 246.32 827.40 247.70 C826.93 249.08 825.57 250.78 825.20 251.40"/><path d="M796.00 220.30 C795.45 220.22 793.70 219.42 792.70 219.80 C791.70 220.18 790.62 221.50 790.00 222.60 C789.38 223.70 789.07 225.35 789.00 226.40 C788.93 227.45 789.50 228.48 789.60 228.90"/><path d="M810.90 223.60 L822.50 220.80"/><path d="M815.50 228.20 L823.40 224.00"/><path d="M844.60 183.70 C843.33 183.65 842.15 183.87 840.90 184.20 C839.65 184.53 838.97 184.60 837.10 185.70 C835.23 186.80 831.78 188.72 829.70 190.80 C827.62 192.88 825.92 195.57 824.60 198.20 C823.28 200.83 822.33 203.97 821.80 206.60 C821.27 209.23 821.25 211.53 821.40 214.00 C821.55 216.47 821.78 218.77 822.70 221.40 C823.62 224.03 825.27 227.55 826.90 229.80 C828.53 232.05 830.33 233.70 832.50 234.90 C834.67 236.10 837.42 236.92 839.90 237.00 C842.38 237.08 845.07 236.60 847.40 235.40 C849.73 234.20 852.05 232.28 853.90 229.80 C855.75 227.32 857.35 223.75 858.50 220.50 C859.65 217.25 860.48 213.55 860.80 210.30 C861.12 207.05 860.93 203.78 860.40 201.00 C859.87 198.22 858.85 195.83 857.60 193.60 C856.35 191.37 854.42 189.12 852.90 187.60 C851.38 186.08 849.88 185.15 848.50 184.50 C847.12 183.85 845.87 183.75 844.60 183.70Z"/><path d="M825.50 347.60 C827.00 347.93 831.25 349.07 834.50 349.60 C837.75 350.13 840.25 350.48 845.00 350.80 C849.75 351.12 854.67 351.30 863.00 351.50 C871.33 351.70 884.17 351.85 895.00 352.00 C905.83 352.15 922.50 352.33 928.00 352.40"/><path d="M825.50 347.60 C825.53 347.93 825.52 348.93 825.70 349.60 C825.88 350.27 825.95 350.97 826.60 351.60 C827.25 352.23 829.10 353.10 829.60 353.40 L935.8 353.5"/><path d="M934.00 350.00 L936.00 353.20"/><path d="M825.4 347.9a.5 .5 0 1 0 .01 0Z"/><path d="M946.00 315.00 C946.50 315.67 948.25 317.33 949.00 319.00 C949.75 320.67 950.33 322.83 950.50 325.00 C950.67 327.17 950.50 329.67 950.00 332.00 C949.50 334.33 948.67 336.67 947.50 339.00 C946.33 341.33 944.58 344.00 943.00 346.00 C941.42 348.00 939.25 349.77 938.00 351.00 C936.75 352.23 935.92 353.00 935.50 353.40"/></g>
<g transform="translate(59.600 389.700) scale(0.3476 0.3438) translate(-624.000 -389.300)"><path d="M685.50 393.30 C684.42 393.35 680.98 393.43 679.00 393.60 C677.02 393.77 675.93 393.72 673.60 394.30 C671.27 394.88 668.10 395.67 665.00 397.10 C661.90 398.53 658.10 400.63 655.00 402.90 C651.90 405.17 648.90 407.73 646.40 410.70 C643.90 413.67 641.67 417.13 640.00 420.70 C638.33 424.27 637.17 428.28 636.40 432.10 C635.63 435.92 635.28 439.78 635.40 443.60 C635.52 447.42 636.33 451.43 637.10 455.00 C637.87 458.57 639.17 462.15 640.00 465.00 C640.83 467.85 641.62 469.83 642.10 472.10 C642.58 474.37 642.77 477.52 642.90 478.60"/><path d="M685.50 393.30 C686.58 393.35 689.93 393.43 692.00 393.60 C694.07 393.77 695.50 393.63 697.90 394.30 C700.30 394.97 703.32 396.05 706.40 397.60 C709.48 399.15 713.30 401.18 716.40 403.60 C719.50 406.02 722.50 409.02 725.00 412.10 C727.50 415.18 729.68 418.52 731.40 422.10 C733.12 425.68 734.47 430.02 735.30 433.60 C736.13 437.18 736.45 440.03 736.40 443.60 C736.35 447.17 735.72 451.43 735.00 455.00 C734.28 458.57 732.93 462.02 732.10 465.00 C731.27 467.98 730.52 470.63 730.00 472.90 C729.48 475.17 729.17 477.65 729.00 478.60"/><path d="M673.60 394.30 C674.55 393.70 677.32 391.53 679.30 390.70 C681.28 389.87 683.52 389.35 685.50 389.30 C687.48 389.25 689.13 389.57 691.20 390.40 C693.27 391.23 696.78 393.65 697.90 394.30"/><path d="M657.30 480.00 C658.58 479.03 662.05 475.77 665.00 474.20 C667.95 472.63 671.67 471.42 675.00 470.60 C678.33 469.78 681.67 469.35 685.00 469.30 C688.33 469.25 691.67 469.47 695.00 470.30 C698.33 471.13 702.05 472.68 705.00 474.30 C707.95 475.92 711.42 479.05 712.70 480.00"/><path d="M657.30 480.20 C655.30 479.68 652.38 479.52 650.00 479.40 C647.62 479.28 645.50 479.13 643.00 479.50 C640.50 479.87 637.33 480.65 635.00 481.60 C632.67 482.55 630.63 483.80 629.00 485.20 C627.37 486.60 626.03 488.28 625.20 490.00 C624.37 491.72 624.07 493.50 624.00 495.50 C623.93 497.50 624.13 499.67 624.80 502.00 C625.47 504.33 626.38 507.33 628.00 509.50 C629.62 511.67 632.17 513.65 634.50 515.00 C636.83 516.35 639.52 517.22 642.00 517.60 C644.48 517.98 646.98 518.23 649.40 517.30 C651.82 516.37 654.32 513.88 656.50 512.00 C658.68 510.12 660.65 508.95 662.50 506.00 C664.35 503.05 666.93 497.47 667.60 494.30 C668.27 491.13 667.43 488.97 666.50 487.00 C665.57 485.03 663.53 483.63 662.00 482.50 C660.47 481.37 659.30 480.72 657.30 480.20Z"/><path d="M712.50 480.20 C714.50 479.68 717.42 479.52 719.80 479.40 C722.18 479.28 724.30 479.13 726.80 479.50 C729.30 479.87 732.47 480.65 734.80 481.60 C737.13 482.55 739.17 483.80 740.80 485.20 C742.43 486.60 743.77 488.28 744.60 490.00 C745.43 491.72 745.73 493.50 745.80 495.50 C745.87 497.50 745.67 499.67 745.00 502.00 C744.33 504.33 743.42 507.33 741.80 509.50 C740.18 511.67 737.63 513.65 735.30 515.00 C732.97 516.35 730.28 517.22 727.80 517.60 C725.32 517.98 722.82 518.23 720.40 517.30 C717.98 516.37 715.48 513.88 713.30 512.00 C711.12 510.12 709.15 508.95 707.30 506.00 C705.45 503.05 702.87 497.47 702.20 494.30 C701.53 491.13 702.37 488.97 703.30 487.00 C704.23 485.03 706.27 483.63 707.80 482.50 C709.33 481.37 710.50 480.72 712.50 480.20Z"/><path d="M625.00 490.70 L665.70 499.70"/><path d="M744.80 490.70 L704.10 499.70"/><path d="M649.30 517.10 C650.08 518.08 652.33 521.08 654.00 523.00 C655.67 524.92 657.47 527.10 659.30 528.60 C661.13 530.10 662.87 530.93 665.00 532.00 C667.13 533.07 668.78 534.27 672.10 535.00 C675.42 535.73 680.63 536.40 684.90 536.40 C689.17 536.40 694.38 535.73 697.70 535.00 C701.02 534.27 702.67 533.07 704.80 532.00 C706.93 530.93 708.67 530.10 710.50 528.60 C712.33 527.10 714.13 524.92 715.80 523.00 C717.47 521.08 719.72 518.08 720.50 517.10"/><path d="M659.40 528.40 C659.80 529.48 660.75 532.92 661.80 534.90 C662.85 536.88 664.13 538.48 665.70 540.30 C667.27 542.12 669.23 544.28 671.20 545.80 C673.17 547.32 675.23 548.58 677.50 549.40 C679.77 550.22 682.32 550.70 684.80 550.70 C687.28 550.70 690.08 550.27 692.40 549.40 C694.72 548.53 696.60 547.27 698.70 545.50 C700.80 543.73 703.22 541.07 705.00 538.80 C706.78 536.53 708.40 533.73 709.40 531.90 C710.40 530.07 710.73 528.48 711.00 527.80"/><ellipse cx="685.2" cy="546.9" rx="6.8" ry="3.4"/><path d="M685 543.5V550.3"/></g>
</g></g>
<g class="dim">
<path class="dl" d="M60.0 373.7H65.9M93.1 373.7H99.0"/><circle cx="60.0" cy="373.7" r="2.6"/><circle cx="99.0" cy="373.7" r="2.6"/><text class="dt" x="79.5" y="380.1" text-anchor="middle" textLength="23.6" lengthAdjust="spacingAndGlyphs">10.6</text>
<path class="dl" d="M130.8 373.7H144.6M169.1 373.7H186.8"/><circle cx="130.8" cy="373.7" r="2.6"/><circle cx="186.8" cy="373.7" r="2.6"/><text class="dt" x="158.2" y="380.1" text-anchor="middle" textLength="13.7" lengthAdjust="spacingAndGlyphs">14</text>
<path class="dl" d="M116.8 293.2V311.2M116.8 335.3V353.5"/><circle cx="116.8" cy="293.2" r="2.6"/><circle cx="116.8" cy="353.5" r="2.6"/><text class="dt" transform="translate(122.6 323.6) rotate(-90)" text-anchor="middle" textLength="14.0" lengthAdjust="spacingAndGlyphs">15</text>
<path class="dl" d="M116.9 388.8V406.5M116.9 430.7V445.2"/><circle cx="116.9" cy="388.8" r="2.6"/><circle cx="116.9" cy="445.2" r="2.6"/><text class="dt" transform="translate(122.7 417.4) rotate(-90)" text-anchor="middle" textLength="13.7" lengthAdjust="spacingAndGlyphs">14</text>
<path class="dl" d="M297.6 373.5H312.0M349.8 373.5H368.1"/><circle cx="297.6" cy="373.5" r="2.6"/><circle cx="368.1" cy="373.5" r="2.6"/><text class="dt" x="330.9" y="379.9" text-anchor="middle" textLength="25.7" lengthAdjust="spacingAndGlyphs">16.9</text>
<path class="dl" d="M413.7 373.5H442.3M470.0 373.5H498.6"/><circle cx="413.7" cy="373.5" r="2.6"/><circle cx="498.6" cy="373.5" r="2.6"/><text class="dt" x="455.6" y="379.9" text-anchor="middle" textLength="15.6" lengthAdjust="spacingAndGlyphs">22</text>
<path class="dl" d="M394.2 261.4V296.9M394.2 321.1V354.0"/><circle cx="394.2" cy="261.4" r="2.6"/><circle cx="394.2" cy="354.0" r="2.6"/><text class="dt" transform="translate(400.0 309.8) rotate(-90)" text-anchor="middle" textLength="14.7" lengthAdjust="spacingAndGlyphs">24</text>
<path class="dl" d="M394.2 388.4V420.6M394.2 445.0V473.6"/><circle cx="394.2" cy="388.4" r="2.6"/><circle cx="394.2" cy="473.6" r="2.6"/><text class="dt" transform="translate(400.0 431.9) rotate(-90)" text-anchor="middle" textLength="14.7" lengthAdjust="spacingAndGlyphs">22</text>
<path class="dl" d="M636.6 373.3H662.8M701.6 373.3H733.9"/><circle cx="636.6" cy="373.3" r="2.6"/><circle cx="733.9" cy="373.3" r="2.6"/><text class="dt" x="682.0" y="379.7" text-anchor="middle" textLength="26.0" lengthAdjust="spacingAndGlyphs">30.4</text>
<path class="dl" d="M791.0 373.3H847.8M886.2 373.3H950.6"/><circle cx="791.0" cy="373.3" r="2.6"/><circle cx="950.6" cy="373.3" r="2.6"/><text class="dt" x="866.5" y="379.7" text-anchor="middle" textLength="26.7" lengthAdjust="spacingAndGlyphs">40.2</text>
<path class="dl" d="M767.1 183.7V252.9M767.1 291.0V353.5"/><circle cx="767.1" cy="183.7" r="2.6"/><circle cx="767.1" cy="353.5" r="2.6"/><text class="dt" transform="translate(772.9 270.5) rotate(-90)" text-anchor="middle" textLength="26.1" lengthAdjust="spacingAndGlyphs">43.4</text>
<path class="dl" d="M767.1 391.2V455.9M767.1 493.8V550.0"/><circle cx="767.1" cy="391.2" r="2.6"/><circle cx="767.1" cy="550.0" r="2.6"/><text class="dt" transform="translate(772.9 475.1) rotate(-90)" text-anchor="middle" textLength="26.3" lengthAdjust="spacingAndGlyphs">40.2</text>
</g>
<text class="lb" y="151.3"><tspan x="60.6" textLength="30.4" lengthAdjust="spacingAndGlyphs">WAN</tspan> <tspan x="95.2" textLength="45.2" lengthAdjust="spacingAndGlyphs">SMALL</tspan></text>
<text class="lb" y="151.3"><tspan x="297.6" textLength="30.4" lengthAdjust="spacingAndGlyphs">WAN</tspan> <tspan x="333.0" textLength="55.2" lengthAdjust="spacingAndGlyphs">MEDIUM</tspan></text>
<text class="lb" y="151.3"><tspan x="625.2" textLength="30.4" lengthAdjust="spacingAndGlyphs">WAN</tspan></text>
</svg>
</body></html>
